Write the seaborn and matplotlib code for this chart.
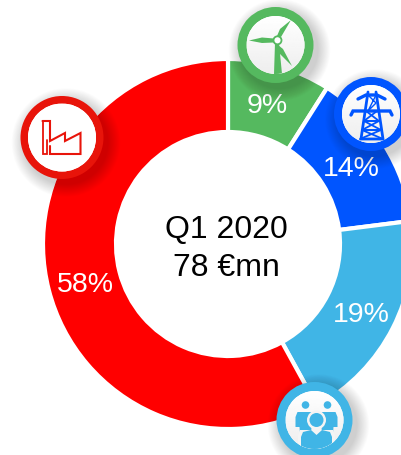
import matplotlib
matplotlib.use('Agg')
import matplotlib.pyplot as plt
from matplotlib.patches import Circle, Polygon
import numpy as np
import seaborn as sns

shares = [9, 14, 19, 58]
colors = ['#55B95F', '#0055FF', '#40B5E6', '#FF0000']
center_lines = ['Q1 2020', '78 €mn']

W, H = 401, 456

sns.set_theme(style='white')
plt.rcParams['font.family'] = ['Liberation Sans', 'DejaVu Sans']


def py(y):
    # picture coordinates run downwards, the axes upwards
    return H - y


def badge(ax, x, y, r, r_in, color, shade=0.93):
    for k in range(16, 0, -1):
        ax.add_patch(Circle((x + 4, py(y + 5)), r + k * 0.8, color='black', alpha=0.012, lw=0, zorder=5))
    ax.add_patch(Circle((x, py(y)), r, color=color, lw=0, zorder=6))
    inner = Circle((x, py(y)), r_in, color='white', lw=0, zorder=7)
    ax.add_patch(inner)
    grad = np.linspace(1.0, shade, 64).reshape(-1, 1)
    im = ax.imshow(grad, extent=(x - r_in, x + r_in, py(y + r_in), py(y - r_in)), cmap='gray',
                   vmin=0, vmax=1, zorder=7.5, aspect='auto')
    im.set_clip_path(inner)
    return inner


def fill(ax, pts, color, clip=None, z=8):
    p = Polygon([(a, py(b)) for a, b in pts], closed=True, color=color, lw=0, zorder=z)
    ax.add_patch(p)
    if clip is not None:
        p.set_clip_path(clip)


def line(ax, xs, ys, color, lw=1.4):
    ax.plot(xs, [py(v) for v in ys], color=color, lw=lw, zorder=8, solid_joinstyle='miter', scalex=False, scaley=False)


def turbine(ax, color):
    inner = badge(ax, 275.5, 46, 38, 29, color)
    fill(ax, [(275, 44), (279, 44), (282, 75), (274, 75)], color, inner)
    fill(ax, [(249, 41.5), (262, 38.5), (274, 39.5), (274, 43.5), (262, 44)], color, inner)
    fill(ax, [(291, 21), (281, 38), (277, 37), (280, 30)], color, inner)
    fill(ax, [(292, 67), (276, 51), (278, 46), (283, 50)], color, inner)
    ax.add_patch(Circle((277.5, py(41.3)), 4, fc='white', ec=color, lw=1.3, zorder=9))


def pylon(ax, color):
    badge(ax, 371, 115, 37, 29, color)
    line(ax, [368, 361, 364, 380, 383, 376], [93, 140, 140, 140, 140, 93], color, 2.0)
    line(ax, [358, 366, 377, 385], [100, 96, 96, 100], color, 2.4)
    line(ax, [351, 353, 390, 392], [116, 112, 112, 116], color, 2.4)
    line(ax, [366, 379, 364, 381, 362, 383], [112, 122, 122, 131, 131, 140], color, 1.3)
    line(ax, [377, 364, 379, 362, 381, 360], [112, 122, 122, 131, 131, 140], color, 1.3)
    line(ax, [368, 376, 368, 376], [96, 104, 112, 96], color, 1.0)


def factory(ax, color):
    badge(ax, 62, 138.5, 41.5, 34, color, shade=1.0)
    xs = [42.5, 50, 50, 65, 65, 80.5, 80.5, 50, 50]
    ys = [122, 122, 142, 134, 142, 134, 155, 155, 147]
    line(ax, xs, ys, color, 1.5)
    line(ax, [42.5, 42.5, 47, 47], [122, 155, 155, 141], color, 1.3)


def people(ax, color):
    inner = badge(ax, 314.5, 421, 38, 29, color)
    for hx in (305.5, 327.5):
        ax.add_patch(Circle((hx, py(406)), 3.8, color=color, lw=0, zorder=8))
        fill(ax, [(hx - 8, 413), (hx + 8, 413), (hx + 10, 418), (hx + 10, 428), (hx + 6, 428), (hx + 5, 442),
                  (hx - 5, 442), (hx - 6, 428), (hx - 10, 428), (hx - 10, 418)], color, inner)
    ax.add_patch(Circle((316.5, py(421)), 9.5, color='#f4f4f4', lw=0, zorder=8.5))
    ax.add_patch(Circle((316.5, py(421)), 7, color=color, lw=0, zorder=9))
    fill(ax, [(300, 431), (333, 431), (335, 436), (335, 450), (298, 450), (298, 436)], '#f4f4f4', inner, z=8.5)
    fill(ax, [(303, 433), (311, 431), (316.5, 436), (322, 431), (330, 433), (332, 438), (332, 450),
              (301, 450), (301, 438)], color, inner, z=9)


fig = plt.figure(figsize=(W / 100, H / 100), dpi=100)
ax = fig.add_axes([0, 0, 1, 1])

wedges, texts, pcts = ax.pie(shares, colors=colors, startangle=90, counterclock=False,
                             center=(228, py(245)), radius=185, autopct='%.0f%%', pctdistance=0.80,
                             wedgeprops={'width': 73, 'edgecolor': 'white', 'linewidth': 3.0},
                             textprops={'color': 'white', 'fontsize': 20.5})
for t, nudge in zip(pcts, [-2, -2, 1, 1]):
    t.set_y(t.get_position()[1] - 3)
    t.set_x(t.get_position()[0] + nudge)

turbine(ax, colors[0])
pylon(ax, colors[1])
people(ax, colors[2])
factory(ax, '#E8140A')

ax.text(226.5, py(230), center_lines[0], ha='center', va='center', fontsize=23, color='black', zorder=4)
ax.text(226.5, py(268), center_lines[1], ha='center', va='center', fontsize=23, color='black', zorder=4)

ax.set_xlim(0, W)
ax.set_ylim(0, H)
ax.set_aspect('auto')
ax.axis('off')
fig.savefig('out.png', dpi=100)
